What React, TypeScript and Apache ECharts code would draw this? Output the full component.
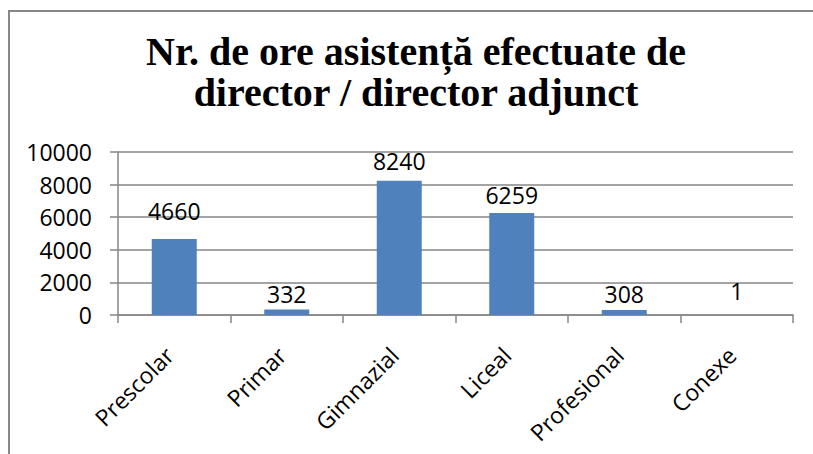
import React, { useEffect, useRef } from "react";
import * as echarts from "echarts";

const categories = ["Prescolar", "Primar", "Gimnazial", "Liceal", "Profesional", "Conexe"];
const values = [4660, 332, 8240, 6259, 308, 1];
const titleLines = ["Nr. de ore asistență efectuate de", "director / director adjunct"];
// gap (px) between each bar top and its value label, as placed in the reference
const labelGaps = [17, 4.5, 8.5, 6.5, 4.5, 12.5];

export default function App() {
  const ref = useRef<HTMLDivElement>(null);
  useEffect(() => {
    document.body.style.margin = "0";
    const chart = echarts.init(ref.current!, null, { renderer: "svg" });
    const labelFont = "'Open Sans', sans-serif";
    chart.setOption({
      animation: false,
      backgroundColor: "#ffffff",
      graphic: [
        {
          type: "rect",
          shape: { x: 9, y: 11, width: 900, height: 600 },
          style: { fill: "none", stroke: "#878787", lineWidth: 2 },
          silent: true,
        },
        {
          type: "text",
          x: 416,
          y: 31,
          style: {
            text: titleLines.join("\n"),
            textAlign: "center",
            textVerticalAlign: "top",
            fontFamily: "'Liberation Serif', serif",
            fontWeight: "bold",
            fontSize: 40,
            lineHeight: 41,
            fill: "#000",
          },
        },
      ],
      grid: { left: 118, top: 152, right: 20, bottom: 139, containLabel: false },
      xAxis: {
        type: "category",
        data: categories,
        axisLine: { lineStyle: { color: "#868686", width: 1.5 } },
        axisTick: { show: true, length: 8, alignWithLabel: false, lineStyle: { color: "#868686", width: 1.5 } },
        axisLabel: {
          rotate: 45,
          interval: 0,
          margin: 31,
          padding: [0, 7, 0, 0],
          fontFamily: labelFont,
          fontSize: 23,
          color: "#000",
        },
      },
      yAxis: {
        type: "value",
        min: 0,
        max: 10000,
        interval: 2000,
        axisLine: { show: true, lineStyle: { color: "#868686", width: 1.5 } },
        axisTick: { show: true, length: 8, lineStyle: { color: "#868686", width: 1.5 } },
        splitLine: { show: true, lineStyle: { color: "#868686", width: 1.5 } },
        axisLabel: {
          margin: 26,
          fontFamily: labelFont,
          fontSize: 23,
          color: "#000",
          formatter: (v: number) => String(v),
        },
      },
      series: [
        {
          type: "bar",
          data: values.map((v, i) => ({ value: v, label: { distance: labelGaps[i] } })),
          barWidth: 45,
          itemStyle: { color: "#4F81BD" },
          label: {
            show: true,
            position: "top",
            fontFamily: labelFont,
            fontSize: 23,
            color: "#000",
          },
        },
      ],
    });
    return () => chart.dispose();
  }, []);
  return <div ref={ref} style={{ width: 813, height: 454 }} />;
}
